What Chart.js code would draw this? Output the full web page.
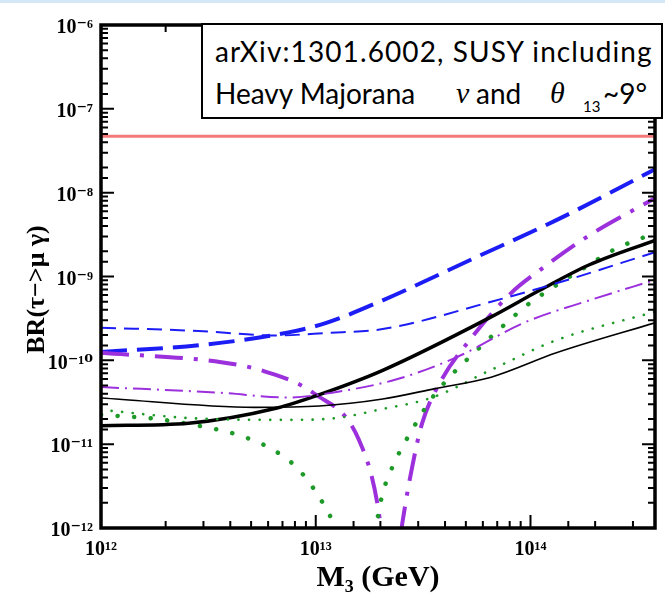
<!DOCTYPE html>
<html><head><meta charset="utf-8">
<script src="https://cdn.jsdelivr.net/npm/chart.js@4.4.1/dist/chart.umd.min.js"></script>
<style>
html,body{margin:0;padding:0;background:#fff;overflow:hidden;}
#wrap{position:relative;width:665px;height:601px;overflow:hidden;background:#fff;}
#topband{position:absolute;left:0;top:0;width:665px;height:3px;background:#d3e7f7;}
#box{position:absolute;left:201px;top:23px;width:458px;height:92px;border:2px solid #000;background:#fff;
 font-family:Lato,"Open Sans",sans-serif;font-size:28px;color:#000;}
#box .l{position:absolute;white-space:nowrap;line-height:1;}
#box .g{font-family:"Liberation Serif","DejaVu Serif",serif;font-style:italic;font-size:30px;}
#box .s{font-size:15px;}
canvas{position:absolute;left:0;top:0;}
</style></head>
<body><div id="wrap">
<canvas id="c" width="665" height="601"></canvas>
<div id="topband"></div>
<div id="box">
<div class="l" style="left:12px;top:12px;letter-spacing:1.1px">arXiv:1301.6002, SUSY including</div>
<div class="l" style="left:12px;top:54px">Heavy Majorana</div>
<div class="l g" style="left:253px;top:53px">ν</div>
<div class="l" style="left:273px;top:54px">and</div>
<div class="l g" style="left:347px;top:53px">θ</div>
<div class="l s" style="left:380px;top:74px">13</div>
<div class="l" style="left:400px;top:54px">~9°</div>
</div>
</div>
<script>
// ---- data (M3 in GeV, BR(tau->mu gamma)) ----
const xMin = 1e12, xMax = 3.8e14, yMin = 1e-12, yMax = 1e-6;
const xDecadeLabels = [1e12, 1e13, 1e14];
const yDecadeLabels = [1e-12, 1e-11, 1e-10, 1e-9, 1e-8, 1e-7, 1e-6];

const limitX = [1e12, 3.8e14];
const limitY = [4.7e-8, 4.7e-8];

const thickBlueX = [1e12, 2.85e12, 7.36e12, 1.12e13, 2.05e13, 5.31e13, 1.32e14, 3.8e14];
const thickBlueY = [1.26e-10, 1.51e-10, 2.14e-10, 2.8e-10, 5.2e-10, 1.6e-9, 4.7e-9, 1.9e-8];

const thinBlueX = [1e12, 2.85e12, 6.4e12, 1.12e13, 2.05e13, 6.56e13, 1.32e14, 3.8e14];
const thinBlueY = [2.45e-10, 2.24e-10, 1.98e-10, 2.12e-10, 2.36e-10, 5.0e-10, 8.3e-10, 1.95e-9];

const thickPurpleX = [1e12, 3.63e12, 5.77e12, 9.79e12, 1.59e13, 1.96e13, 2.22e13, 2.53e13, 2.81e13, 3.13e13, 3.86e13, 5.09e13, 8.1e13, 1.11e14, 1.88e14, 3.8e14];
const thickPurpleY = [1.23e-10, 9.5e-11, 7.4e-11, 4.05e-11, 1.12e-11, 1.63e-12, 1e-13, 1.14e-12, 5.3e-12, 1.78e-11, 5.9e-11, 1.62e-10, 6.3e-10, 1.2e-9, 3.1e-9, 8.6e-9];

const thinPurpleX = [1e12, 3.63e12, 7.36e12, 1.25e13, 2.36e13, 4.57e13, 9.3e13, 1.88e14, 3.8e14];
const thinPurpleY = [4.8e-11, 4.1e-11, 3.6e-11, 4.2e-11, 5.9e-11, 1.1e-10, 2.8e-10, 5.2e-10, 9.1e-10];

const thinBlackX = [1e12, 5.2e12, 1.04e13, 2.05e13, 3.59e13, 6.56e13, 1.32e14, 3.8e14];
const thinBlackY = [3.55e-11, 2.75e-11, 2.85e-11, 3.45e-11, 4.6e-11, 6.3e-11, 1.23e-10, 2.8e-10];

const thickBlackX = [1e12, 2.56e12, 6.6e12, 1.04e13, 2.05e13, 6.56e13, 1.11e14, 1.88e14, 3.8e14];
const thickBlackY = [1.66e-11, 1.78e-11, 2.7e-11, 3.9e-11, 7.6e-11, 3.3e-10, 6.9e-10, 1.38e-9, 2.7e-9];

const thinGreenX = [1e12, 2.56e12, 7.36e12, 1.25e13, 1.96e13, 3.48e13, 6.56e13, 1.32e14, 3.8e14];
const thinGreenY = [2.57e-11, 2.05e-11, 1.95e-11, 2.05e-11, 2.57e-11, 3.6e-11, 7.7e-11, 1.74e-10, 3.8e-10];

const thickGreenX = [1e12, 1.81e12, 3.06e12, 4.34e12, 6.16e12, 8.19e12, 1.03e13, 1.21e13, 1.51e13, 1.91e13, 2.05e13, 2.36e13, 2.81e13, 3.48e13, 4.34e13, 5.65e13, 7.36e13, 9.8e13, 1.32e14, 1.81e14, 2.46e14, 3.8e14];
const thickGreenY = [2.24e-11, 2.0e-11, 1.6e-11, 1.29e-11, 8.9e-12, 5.2e-12, 2.4e-12, 1.08e-12, 1e-13, 1.08e-12, 2.6e-12, 6.5e-12, 1.48e-11, 3.55e-11, 6.9e-11, 1.33e-10, 2.5e-10, 4.7e-10, 7.9e-10, 1.3e-9, 2.1e-9, 3.3e-9];

// ---- helpers ----
const pts = (xs, ys) => xs.map((x, i) => ({x: x, y: ys[i]}));
const SUP = {'-':'⁻','0':'⁰','1':'¹','2':'²','3':'³','4':'⁴','5':'⁵','6':'⁶','7':'⁷','8':'⁸','9':'⁹'};
const isPow10 = v => { const l = Math.log10(v); return Math.abs(l - Math.round(l)) < 1e-6; };
const powLabel = v => '10' + String(Math.round(Math.log10(v))).split('').map(c => SUP[c]).join('');
const inList = (list, v) => list.some(d => Math.abs(Math.log10(d) - Math.log10(v)) < 1e-6);

function ds(label, xs, ys, color, width, dash, cap) {
  return {label, data: pts(xs, ys), borderColor: color, backgroundColor: color, borderWidth: width,
    borderDash: dash, borderCapStyle: cap || 'butt', showLine: true, pointRadius: 0,
    cubicInterpolationMode: 'monotone', fill: false};
}

const BLUE = '#1c1cf5', PURPLE = '#9b30dc', GREEN = '#1e9a28', RED = '#f37878';
const SERIF = "'Liberation Serif','DejaVu Serif',serif";

const framePlugin = {
  id: 'frame',
  afterDraw(chart) {
    const {ctx, chartArea: a, scales} = chart;
    ctx.save();
    ctx.strokeStyle = '#000';
    ctx.lineWidth = 2;
    const xs = scales.x, ys = scales.y;
    xs.ticks.forEach(t => {
      const p = xs.getPixelForValue(t.value);
      if (p < a.left + 2 || p > a.right - 2) return;
      const len = isPow10(t.value) ? 13 : 7;
      ctx.beginPath();
      ctx.moveTo(p, a.bottom); ctx.lineTo(p, a.bottom - len);
      ctx.moveTo(p, a.top); ctx.lineTo(p, a.top + len);
      ctx.stroke();
    });
    ys.ticks.forEach(t => {
      const p = ys.getPixelForValue(t.value);
      if (p < a.top + 2 || p > a.bottom - 2) return;
      const len = isPow10(t.value) ? 13 : 7;
      ctx.beginPath();
      ctx.moveTo(a.left, p); ctx.lineTo(a.left + len, p);
      ctx.moveTo(a.right, p); ctx.lineTo(a.right - len, p);
      ctx.stroke();
    });
    ctx.lineWidth = 3.5;
    ctx.strokeRect(a.left, a.top, a.right - a.left, a.bottom - a.top);
    ctx.restore();
  }
};

new Chart(document.getElementById('c'), {
  type: 'scatter',
  data: {
    datasets: [
      ds('experimental bound', limitX, limitY, RED, 3, [], 'butt'),
      ds('thin black', thinBlackX, thinBlackY, '#000', 1.6, []),
      ds('thin green', thinGreenX, thinGreenY, GREEN, 2.6, [0.1, 10.5], 'round'),
      ds('thin purple', thinPurpleX, thinPurpleY, PURPLE, 2, [18, 6, 2, 6]),
      ds('thin blue', thinBlueX, thinBlueY, BLUE, 2, [15, 8]),
      ds('thick black', thickBlackX, thickBlackY, '#000', 3.5, []),
      ds('thick green', thickGreenX, thickGreenY, GREEN, 4.5, [0.1, 16.5], 'round'),
      ds('thick purple', thickPurpleX, thickPurpleY, PURPLE, 4, [28, 11, 4, 11]),
      ds('thick blue', thickBlueX, thickBlueY, BLUE, 4, [26, 10])
    ]
  },
  options: {
    responsive: false,
    animation: false,
    events: [],
    layout: {padding: {left: 0, right: 2, top: 25, bottom: 0}},
    plugins: {legend: {display: false}, tooltip: {enabled: false}},
    scales: {
      x: {
        type: 'logarithmic', min: xMin, max: xMax,
        grid: {display: false, drawTicks: false}, border: {display: false},
        ticks: {
          autoSkip: false, maxRotation: 0, padding: 10, color: '#000',
          font: {family: SERIF, size: 20, weight: 'bold'},
          callback: (v) => inList(xDecadeLabels, v) ? powLabel(v) : ''
        },
        title: {display: true, text: 'M₃ (GeV)', color: '#000', padding: {top: 0, bottom: 5},
          font: {family: SERIF, size: 30, weight: 'bold'}},
        afterFit: (s) => { s.height = 73; }
      },
      y: {
        type: 'logarithmic', min: yMin, max: yMax,
        grid: {display: false, drawTicks: false}, border: {display: false},
        ticks: {
          autoSkip: false, padding: 8, color: '#000', labelOffset: 3,
          font: {family: SERIF, size: 20, weight: 'bold'},
          callback: (v) => inList(yDecadeLabels, v) ? powLabel(v) : ''
        },
        title: {display: true, text: 'BR(τ−>μ γ)    ', color: '#000', padding: {top: 22, bottom: 0},
          font: {family: SERIF, size: 26, weight: 'bold'}},
        afterFit: (s) => { s.width = 101; }
      }
    }
  },
  plugins: [framePlugin]
});
</script>
</body></html>
